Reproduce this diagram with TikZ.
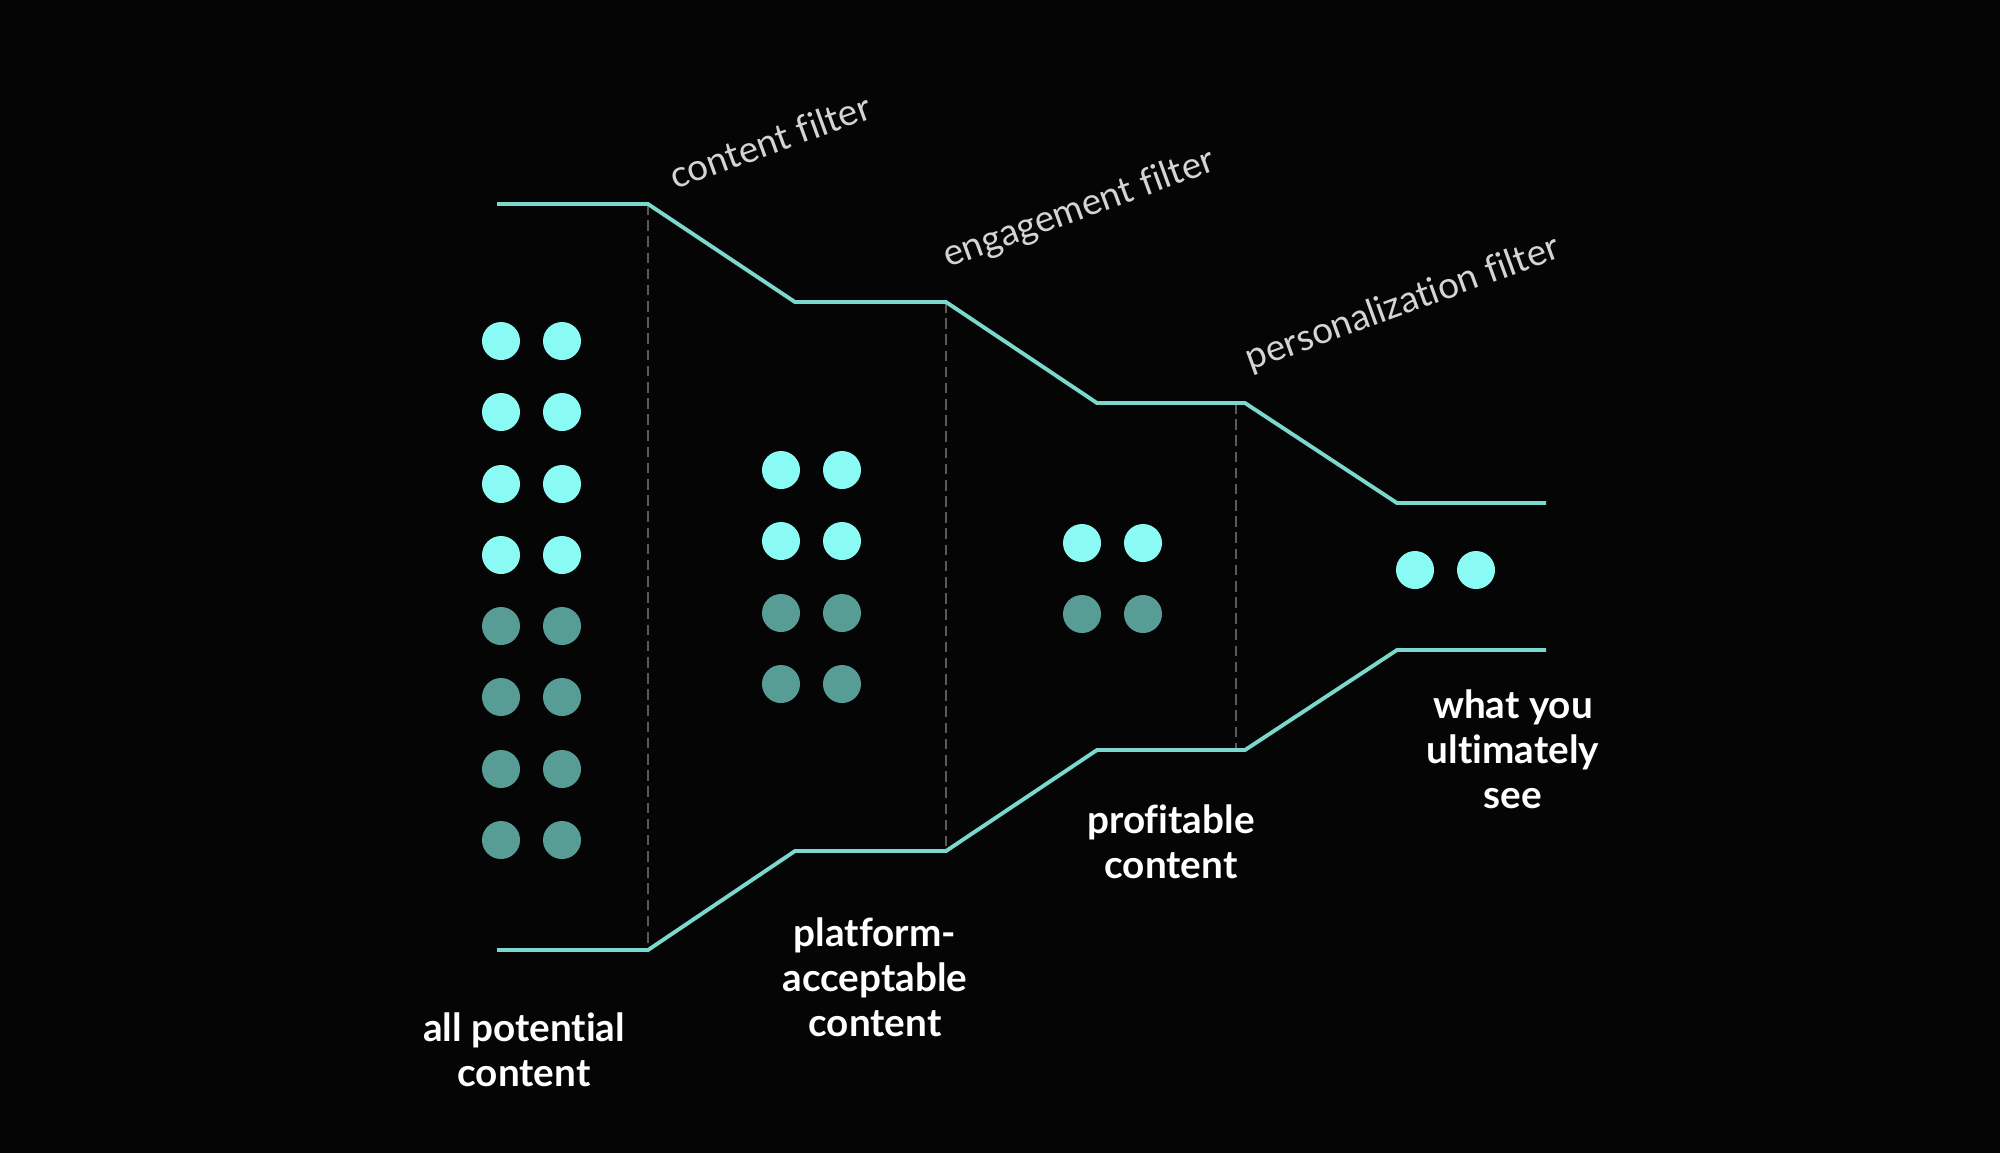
\documentclass[tikz,border=0pt]{standalone}
\usepackage{fontspec}
\setmainfont{Lato}[Ligatures=NoCommon]
\definecolor{bgcol}{RGB}{5,5,5}
\definecolor{funnelcol}{RGB}{122,216,204}
\definecolor{dotbright}{RGB}{138,250,244}
\definecolor{dotdim}{RGB}{88,156,150}
\definecolor{sepgray}{RGB}{90,90,90}
\definecolor{filtergray}{RGB}{212,212,212}

\begin{document}
\begin{tikzpicture}[
  x=0.01cm, y=-0.01cm,
  %% Dot styles
  brightdot/.style={circle, fill=dotbright, minimum size=0.38cm, inner sep=0pt},
  dimdot/.style={circle, fill=dotdim, minimum size=0.38cm, inner sep=0pt},
  %% Line styles
  fedge/.style={draw=funnelcol, line width=1.1pt},
  sepline/.style={draw=sepgray, dash pattern=on 3pt off 1.6pt, line width=0.5pt},
  %% Label styles
  flabel/.style={font=\fontsize{10.5}{12.8}\selectfont, text=filtergray,
    rotate=20, anchor=base west, inner sep=0pt},
  slabel/.style={font=\bfseries\fontsize{11}{12.8}\selectfont, text=white,
    align=center, inner sep=0pt},
]

%% =============================================================
%%  Canvas
%% =============================================================
\fill[bgcol] (0,0) rectangle (2000,1153);
\useasboundingbox (0,0) rectangle (2000,1153);

%% =============================================================
%%  Funnel outline
%% =============================================================
\coordinate (t1) at (497,204);
\coordinate (t2) at (648,204);
\coordinate (t3) at (795,302);
\coordinate (t4) at (946,302);
\coordinate (t5) at (1097,403);
\coordinate (t6) at (1245,403);
\coordinate (t7) at (1397,503);
\coordinate (t8) at (1546,503);

\coordinate (b1) at (497,950);
\coordinate (b2) at (648,950);
\coordinate (b3) at (795,851);
\coordinate (b4) at (946,851);
\coordinate (b5) at (1097,750);
\coordinate (b6) at (1245,750);
\coordinate (b7) at (1397,650);
\coordinate (b8) at (1546,650);

%% Filter boundaries (dashed)
\coordinate (s3t) at (1236,403);
\coordinate (s3b) at (1236,750);
\draw[sepline] (t2) -- (b2);
\draw[sepline] (t4) -- (b4);
\draw[sepline] (s3t) -- (s3b);

\draw[fedge] (t1) -- (t2) -- (t3) -- (t4) -- (t5) -- (t6) -- (t7) -- (t8);
\draw[fedge] (b1) -- (b2) -- (b3) -- (b4) -- (b5) -- (b6) -- (b7) -- (b8);

%% =============================================================
%%  Content dots
%% =============================================================
%% all potential content
\node[brightdot] (all1)  at (501,341) {};
\node[brightdot] (all2)  at (562,341) {};
\node[brightdot] (all3)  at (501,412) {};
\node[brightdot] (all4)  at (562,412) {};
\node[brightdot] (all5)  at (501,484) {};
\node[brightdot] (all6)  at (562,484) {};
\node[brightdot] (all7)  at (501,555) {};
\node[brightdot] (all8)  at (562,555) {};
\node[dimdot]    (all9)  at (501,626) {};
\node[dimdot]    (all10) at (562,626) {};
\node[dimdot]    (all11) at (501,697) {};
\node[dimdot]    (all12) at (562,697) {};
\node[dimdot]    (all13) at (501,769) {};
\node[dimdot]    (all14) at (562,769) {};
\node[dimdot]    (all15) at (501,840) {};
\node[dimdot]    (all16) at (562,840) {};

%% platform-acceptable content
\node[brightdot] (acc1) at (781,470) {};
\node[brightdot] (acc2) at (842,470) {};
\node[brightdot] (acc3) at (781,541) {};
\node[brightdot] (acc4) at (842,541) {};
\node[dimdot]    (acc5) at (781,613) {};
\node[dimdot]    (acc6) at (842,613) {};
\node[dimdot]    (acc7) at (781,684) {};
\node[dimdot]    (acc8) at (842,684) {};

%% profitable content
\node[brightdot] (prof1) at (1082,543) {};
\node[brightdot] (prof2) at (1143,543) {};
\node[dimdot]    (prof3) at (1082,614) {};
\node[dimdot]    (prof4) at (1143,614) {};

%% what you ultimately see
\node[brightdot] (see1) at (1415,570) {};
\node[brightdot] (see2) at (1476,570) {};

%% =============================================================
%%  Filter labels
%% =============================================================
\node[flabel] (lblcf) at (675,190) {content filter};
\node[flabel] (lblef) at (948,268) {engagement filter};
\node[flabel] (lblpf) at (1250,371) {personalization filter};

%% =============================================================
%%  Stage labels
%% =============================================================
\node[slabel] (lblall)  at (524,1050) {all potential\\content};
\node[slabel] (lblacc)  at (875,977)  {platform-\\acceptable\\content};
\node[slabel] (lblprof) at (1171,842) {profitable\\content};
\node[slabel] (lblsee)  at (1513,749) {what you\\ultimately\\see};

\end{tikzpicture}
\end{document}
